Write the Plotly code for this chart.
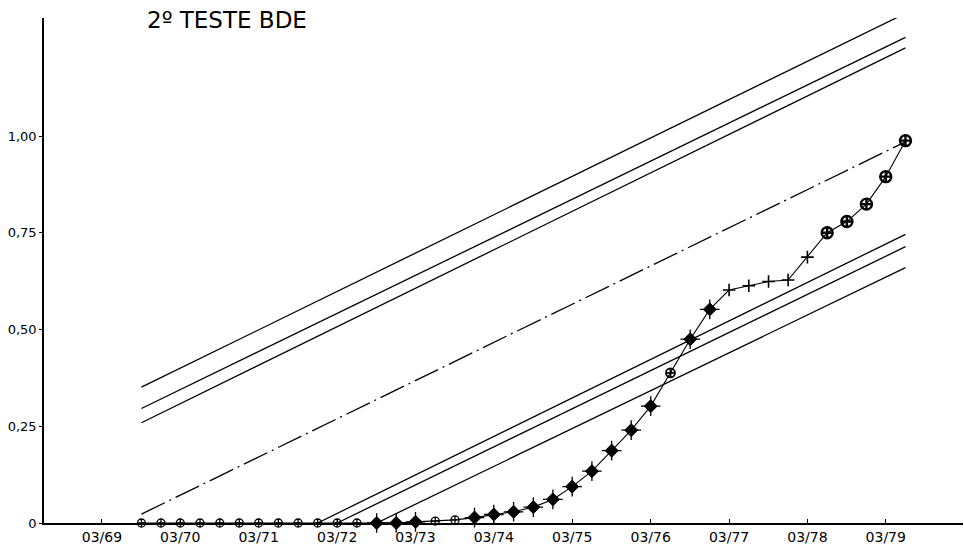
import pandas as pd
import plotly.graph_objects as go

# Quarterly cumulative index, first reading 09/69, last 06/79
quarter_dates = pd.date_range("1969-09-01", periods=40, freq="3MS")
index_values = [
    0.0, 0.0, 0.0, 0.0, 0.0, 0.0, 0.0, 0.0, 0.0, 0.0, 0.0, 0.0,
    0.0, 0.0, 0.003, 0.005, 0.008, 0.014, 0.022, 0.029, 0.041, 0.061,
    0.094, 0.134, 0.187, 0.240, 0.302, 0.388, 0.475, 0.552,
    0.602, 0.613, 0.624, 0.628, 0.687,
    0.750, 0.779, 0.824, 0.895, 0.988,
]

# Reference line (dash-dot) and the upper / lower limit lines
ref_start, ref_end = ("1969-09-01", 0.023), ("1979-06-01", 0.985)
upper_start_date = "1969-09-01"
upper_end_date = "1979-06-01"
upper_start_values = [0.351, 0.296, 0.259]
upper_end_values = [1.317, 1.255, 1.228]
lower_start_dates = ["1971-12-01", "1972-03-01", "1972-09-01"]
lower_start_values = [0.0, 0.0, 0.0]
lower_end_date = "1979-06-01"
lower_end_values = [0.746, 0.714, 0.660]

tick_dates = [f"{y}-03-01" for y in range(1969, 1980)]
tick_labels = ["03/69", "03/70", "03/71", "03/72", "03/73", "03/74",
               "03/75", "03/76", "03/77", "03/78", "03/79"]

fig = go.Figure()

line_style = dict(color="black", width=1.3)
for s, e in zip(upper_start_values, upper_end_values):
    fig.add_trace(go.Scatter(x=[upper_start_date, upper_end_date], y=[s, e],
                             mode="lines", line=line_style, cliponaxis=False,
                             showlegend=False, hoverinfo="skip"))
for d, s, e in zip(lower_start_dates, lower_start_values, lower_end_values):
    fig.add_trace(go.Scatter(x=[d, lower_end_date], y=[s, e],
                             mode="lines", line=line_style, cliponaxis=False,
                             showlegend=False, hoverinfo="skip"))
fig.add_trace(go.Scatter(x=[ref_start[0], ref_end[0]], y=[ref_start[1], ref_end[1]],
                         mode="lines",
                         line=dict(color="black", width=1.3, dash="26px,5px,2px,5px"),
                         cliponaxis=False, showlegend=False, hoverinfo="skip"))

# connecting line of the index
fig.add_trace(go.Scatter(x=quarter_dates, y=index_values, mode="lines",
                         line=dict(color="black", width=1.1), cliponaxis=False,
                         showlegend=False, hoverinfo="skip"))

# marker styles by period
def style_for(i):
    if i < 12 or i in (15, 16):
        return ("circle-cross-open", 8, 1.3)
    if i == 27:
        return ("circle-cross-open", 9, 1.8)
    if i < 30:
        return ("diamond", 10, 1.0)
    if i < 35:
        return ("cross-thin-open", 9, 1.6)
    return ("circle-cross-open", 11, 2.4)

symbols, sizes, widths = zip(*[style_for(i) for i in range(len(index_values))])
fig.add_trace(go.Scatter(x=quarter_dates, y=index_values, mode="markers",
                         marker=dict(symbol=list(symbols), size=list(sizes), color="black",
                                     opacity=1,
                                     line=dict(color="black", width=list(widths))),
                         cliponaxis=False, showlegend=False))

# small spikes on the solid diamonds
solid = [i for i in range(len(index_values)) if style_for(i)[0] == "diamond"]
fig.add_trace(go.Scatter(x=[quarter_dates[i] for i in solid],
                         y=[index_values[i] for i in solid], mode="markers",
                         marker=dict(symbol="cross-thin-open", size=14, color="black",
                                     line=dict(color="black", width=1.3)),
                         cliponaxis=False, showlegend=False, hoverinfo="skip"))

fig.add_annotation(text="2º TESTE BDE", xref="paper", yref="paper",
                   x=0.11, y=0.996, xanchor="left", yanchor="middle",
                   showarrow=False,
                   font=dict(family="DejaVu Sans", size=23, color="black"))

fig.update_layout(
    width=964, height=549,
    margin=dict(l=44, r=1, t=18, b=26),
    plot_bgcolor="white", paper_bgcolor="white",
    font=dict(family="DejaVu Sans", size=13, color="black"),
    xaxis=dict(type="date", range=["1968-06-04", "1980-02-24"],
               tickvals=tick_dates, ticktext=tick_labels,
               showgrid=False, zeroline=False, showline=True,
               linecolor="black", linewidth=1.5,
               ticks="inside", ticklen=4, tickcolor="black", tickwidth=1.2,
               tickfont=dict(size=14)),
    yaxis=dict(range=[0, 1.305], tickvals=[0, 0.25, 0.5, 0.75, 1.0],
               ticktext=["0", "0,25", "0,50", "0,75", "1,00"],
               showgrid=False, zeroline=False, showline=True,
               linecolor="black", linewidth=1.5,
               ticks="outside", ticklen=3, tickcolor="black", tickwidth=1.2,
               tickfont=dict(size=13)),
)

fig.write_html("out.html")
